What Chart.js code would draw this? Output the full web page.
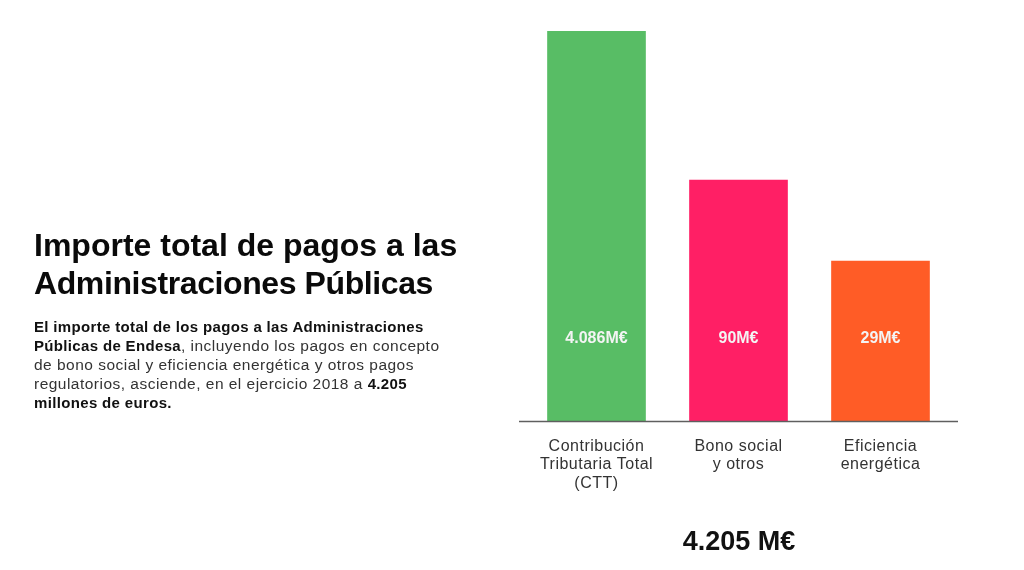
<!DOCTYPE html>
<html lang="es">
<head>
<meta charset="utf-8">
<title>Importe total de pagos a las Administraciones Públicas</title>
<script src="https://cdn.jsdelivr.net/npm/chart.js@4"></script>
<style>
  html, body { margin: 0; padding: 0; background: #fff; }
  body { width: 1024px; height: 570px; overflow: hidden; position: relative; font-family: "Liberation Sans", Arial, sans-serif; }
  #chart { position: absolute; left: 0; top: 0; }
  h1 { position: absolute; left: 34px; top: 226px; margin: 0; font-size: 32px; line-height: 38px; font-weight: 700; color: #0a0a0a; white-space: nowrap; }
  h1 span { letter-spacing: -0.4px; }
  p { position: absolute; left: 34px; top: 317px; margin: 0; font-size: 15.5px; line-height: 19px; color: #333; letter-spacing: 0.48px; white-space: nowrap; }
  p b { color: #111; font-size: 15px; letter-spacing: 0.34px; }
  #total { position: absolute; left: 639px; width: 200px; top: 526px; text-align: center; font-size: 27px; line-height: 30px; font-weight: 700; color: #111; }
</style>
</head>
<body>
<canvas id="chart" width="1024" height="570"></canvas>
<h1>Importe total de pagos a las<br><span>Administraciones Públicas</span></h1>
<p><b>El importe total de los pagos a las Administraciones<br>Públicas de Endesa</b>, incluyendo los pagos en concepto<br>de bono social y eficiencia energética y otros pagos<br>regulatorios, asciende, en el ejercicio 2018 a <b>4.205<br>millones de euros.</b></p>
<div id="total">4.205 M€</div>
<script>
// categorias y valores
const categorias = [
  ['Contribución', 'Tributaria Total', '(CTT)'],
  ['Bono social', 'y otros'],
  ['Eficiencia', 'energética']
];
// the source bars are schematic, heights are not proportional to the printed amounts
const alturas = [390, 241, 160];
const etiquetas = ['4.086M€', '90M€', '29M€'];
const colores = ['#58bd65', '#ff1f65', '#ff5c26'];

// white amounts inside the bars + baseline a bit wider than the plot
const extras = {
  id: 'extras',
  beforeDraw(chart) {
    chart.ctx.letterSpacing = '0.5px'; // tick labels are wider in the source
  },
  afterDatasetsDraw(chart) {
    const { ctx, scales: { x, y } } = chart;
    ctx.save();
    ctx.letterSpacing = '0px';
    ctx.strokeStyle = '#5f5f5f';
    ctx.lineWidth = 1.5;
    ctx.beginPath();
    ctx.moveTo(x.left - 6.5, y.bottom + 0.5);
    ctx.lineTo(x.right + 6.5, y.bottom + 0.5);
    ctx.stroke();
    ctx.fillStyle = '#f4f4f4';
    ctx.font = 'bold 16px "Liberation Sans", Arial, sans-serif';
    ctx.textAlign = 'center';
    ctx.textBaseline = 'middle';
    etiquetas.forEach((t, i) => ctx.fillText(t, x.getPixelForValue(i), 339));
    ctx.restore();
  }
};

new Chart(document.getElementById('chart'), {
  type: 'bar',
  data: {
    labels: categorias,
    datasets: [{ data: alturas, backgroundColor: colores, barThickness: 98, borderWidth: 0 }]
  },
  options: {
    responsive: false,
    animation: false,
    layout: { padding: { left: 525.5, right: 72.5, top: 31, bottom: 0 } },
    plugins: { legend: { display: false }, tooltip: { enabled: false } },
    scales: {
      x: {
        grid: { display: false },
        border: { display: false },
        afterFit(s) { s.height = 149; },
        ticks: {
          color: '#333',
          padding: 8,
          maxRotation: 0,
          autoSkip: false,
          font: { family: '"Liberation Sans", Arial, sans-serif', size: 16, lineHeight: 1.16 }
        }
      },
      y: { display: false, min: 0, max: 390 }
    }
  },
  plugins: [extras]
});
</script>
</body>
</html>
